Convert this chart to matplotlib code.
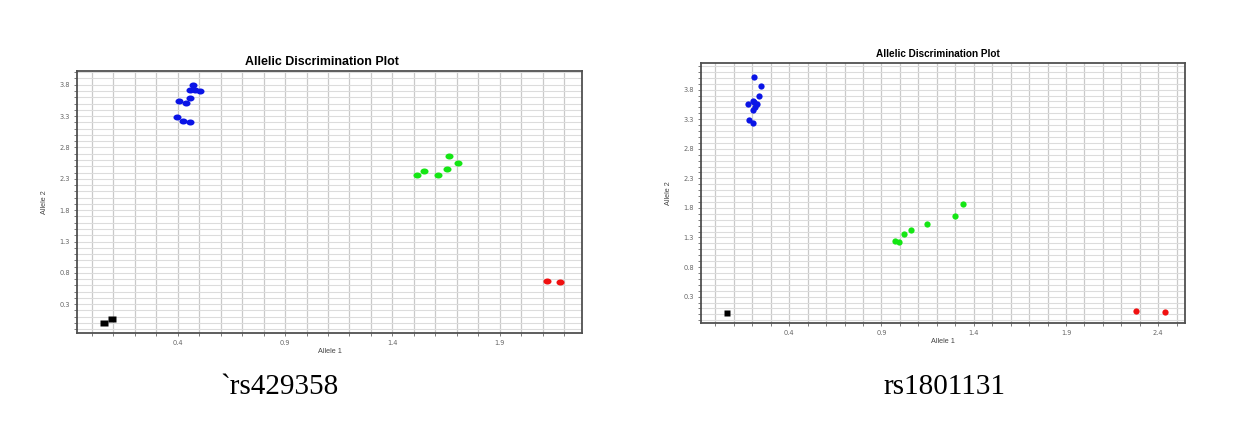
import numpy as np
import matplotlib
matplotlib.use("Agg")
import matplotlib.pyplot as plt
from matplotlib.ticker import FixedLocator, MultipleLocator

# ---------------- data: rs429358 ----------------
a_blue_x = [0.472, 0.459, 0.483, 0.504, 0.459, 0.406, 0.437, 0.397, 0.426, 0.459]
a_blue_y = [3.789, 3.720, 3.720, 3.704, 3.587, 3.533, 3.512, 3.288, 3.229, 3.213]
a_green_x = [1.663, 1.706, 1.653, 1.546, 1.516, 1.610]
a_green_y = [2.663, 2.551, 2.455, 2.423, 2.359, 2.359]
a_red_x = [2.119, 2.181]
a_red_y = [0.678, 0.657]
a_ntc_x = [0.058, 0.096]
a_ntc_y = [-0.005, 0.065]
a_xticks = [0.4, 0.9, 1.4, 1.9]
a_yticks = [0.3, 0.8, 1.3, 1.8, 2.3, 2.8, 3.3, 3.8]

# ---------------- data: rs1801131 ----------------
b_blue_x = [0.207, 0.247, 0.238, 0.202, 0.178, 0.225, 0.216, 0.202, 0.184, 0.205, 0.211]
b_blue_y = [4.008, 3.856, 3.699, 3.609, 3.558, 3.564, 3.508, 3.450, 3.293, 3.237, 3.585]
b_green_x = [1.340, 1.300, 1.148, 1.062, 1.020, 0.973, 0.997]
b_green_y = [1.869, 1.666, 1.531, 1.435, 1.362, 1.243, 1.231]
b_red_x = [2.277, 2.435]
b_red_y = [0.055, 0.033]
b_ntc_x = [0.061]
b_ntc_y = [0.028]
b_xticks = [0.4, 0.9, 1.4, 1.9, 2.4]
b_yticks = [0.3, 0.8, 1.3, 1.8, 2.3, 2.8, 3.3, 3.8]

title = "Allelic Discrimination Plot"
xlabel = "Allele 1"
ylabel = "Allele 2"
captions = ["`rs429358", "rs1801131"]

W, H = 1257, 444
fig = plt.figure(figsize=(W / 100, H / 100), dpi=100)
fig.patch.set_facecolor("white")

# slightly wide ellipse marker (the left screenshot is stretched horizontally)
_t = np.linspace(0, 2 * np.pi, 40)
ellipse = np.column_stack([np.cos(_t), 0.75 * np.sin(_t)])
wide_sq = np.array([[-1, -0.72], [1, -0.72], [1, 0.72], [-1, 0.72], [-1, -0.72]])


def px_axes(left, top, right, bottom):
    return fig.add_axes([left / W, 1 - bottom / H, (right - left) / W, (bottom - top) / H])


def style(ax, xlim, ylim, xt, yt):
    ax.set_xlim(*xlim)
    ax.set_ylim(*ylim)
    ax.xaxis.set_major_locator(FixedLocator(xt))
    ax.yaxis.set_major_locator(FixedLocator(yt))
    ax.xaxis.set_minor_locator(MultipleLocator(0.1))
    ax.yaxis.set_minor_locator(MultipleLocator(0.1))
    ax.set_xticklabels([f"{v:.1f}" for v in xt])
    ax.set_yticklabels([f"{v:.1f}" for v in yt])
    ax.grid(True, axis="x", which="both", color="#c9c9c9", linewidth=0.9)
    ax.grid(True, axis="y", which="both", color="#dcdcdc", linewidth=0.8)
    ax.set_axisbelow(True)
    ax.tick_params(which="both", direction="out", length=2.5, width=0.6,
                   colors="#666666", labelsize=4.8, pad=2.5)
    for s in ax.spines.values():
        s.set_color("#505050")
        s.set_linewidth(1.3)
    ax.set_xlabel(xlabel, fontsize=5.2, color="#444444", labelpad=1.5,
                  family="Liberation Sans")
    ax.set_ylabel(ylabel, fontsize=5.2, color="#444444", labelpad=8,
                  family="Liberation Sans")


def draw(ax, bx, by, gx, gy, rx, ry, nx, ny, mk, sq, ms, msq):
    ax.plot(bx, by, linestyle="none", marker=mk, color="#0a14e6", ms=ms, mec="none")
    ax.plot(gx, gy, linestyle="none", marker=mk, color="#14e614", ms=ms, mec="none")
    ax.plot(rx, ry, linestyle="none", marker=mk, color="#f01010", ms=ms, mec="none")
    ax.plot(nx, ny, linestyle="none", marker=sq, color="black", ms=msq, mec="none")


ax1 = px_axes(77, 71, 582, 333)
style(ax1, (-0.068, 2.282), (-0.159, 4.019), a_xticks, a_yticks)
draw(ax1, a_blue_x, a_blue_y, a_green_x, a_green_y, a_red_x, a_red_y,
     a_ntc_x, a_ntc_y, ellipse, wide_sq, 5.8, 6.0)
ax1.set_title(title, fontsize=8.9, fontweight="bold", family="Liberation Sans",
              x=(322 - 77) / (582 - 77), pad=4)

ax2 = px_axes(701, 63, 1185, 323)
style(ax2, (-0.078, 2.545), (-0.146, 4.251), b_xticks, b_yticks)
draw(ax2, b_blue_x, b_blue_y, b_green_x, b_green_y, b_red_x, b_red_y,
     b_ntc_x, b_ntc_y, "o", "s", 4.5, 4.3)
ax2.set_title(title, fontsize=7.2, fontweight="bold", family="Liberation Sans",
              x=(937.5 - 701) / (1185 - 701), pad=4)

fig.text(279.5 / W, 1 - 394 / H, captions[0], fontsize=21, family="Liberation Serif",
         ha="center", va="baseline")
fig.text(944 / W, 1 - 394 / H, captions[1], fontsize=21, family="Liberation Serif",
         ha="center", va="baseline")

fig.savefig("out.png", dpi=100, facecolor="white")
